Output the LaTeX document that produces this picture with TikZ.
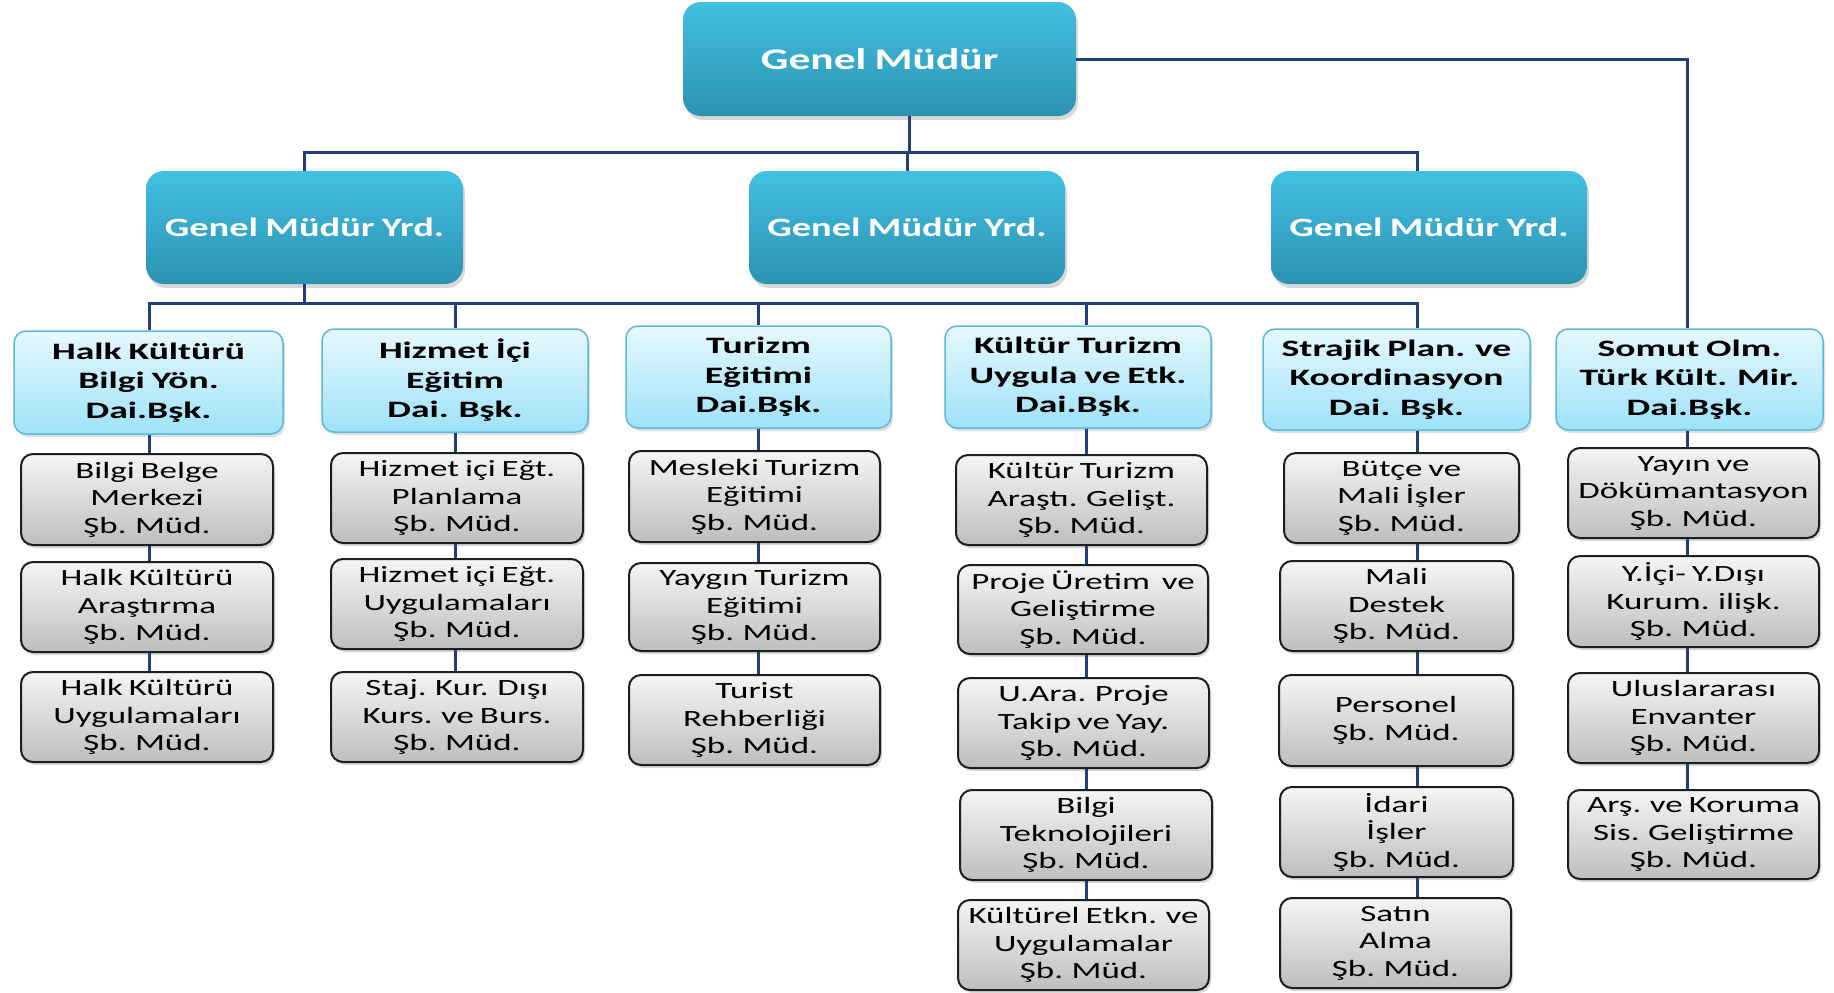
\documentclass[tikz,border=0pt]{standalone}
\usepackage{fontspec}
\setmainfont{Carlito}[FakeStretch=1.5, WordSpace=0.75]
\newfontfamily\daifont{Carlito}[FakeStretch=1.6, WordSpace=0.8]
\newfontfamily\tealfont{Carlito}[FakeStretch=1.45, WordSpace=0.85]
\usetikzlibrary{shadows}
\definecolor{tealtop}{RGB}{66,192,226}
\definecolor{tealbot}{RGB}{44,146,178}
\definecolor{daitop}{RGB}{230,248,254}
\definecolor{daibot}{RGB}{158,226,249}
\definecolor{daiborder}{RGB}{93,184,218}
\definecolor{subtop}{RGB}{245,245,245}
\definecolor{subbot}{RGB}{190,190,190}
\definecolor{subborder}{RGB}{30,30,30}
\definecolor{linec}{RGB}{32,63,124}
\tikzset{
  conn/.style={draw=linec, line width=3pt},
  tealbox/.style={rounded corners=18pt, top color=tealtop, bottom color=tealbot,
    text=white, align=center, inner sep=2pt,
    drop shadow={shadow xshift=2pt, shadow yshift=-4pt, opacity=0.3}},
  daibox/.style={rounded corners=12pt, draw=daiborder, line width=1.5pt,
    top color=daitop, bottom color=daibot, align=center, inner sep=2pt,
    font=\daifont\bfseries\fontsize{23.5}{29.5}\selectfont,
    drop shadow={shadow xshift=2pt, shadow yshift=-3pt, opacity=0.25}},
  subbox/.style={rounded corners=12pt, draw=subborder, line width=2pt,
    top color=subtop, bottom color=subbot, align=center, inner sep=2pt,
    font=\fontsize{23.3}{27.5}\selectfont,
    drop shadow={shadow xshift=2pt, shadow yshift=-3pt, opacity=0.3}},
}
\begin{document}
\begin{tikzpicture}[x=1pt,y=-1pt]
\useasboundingbox (0,0) rectangle (1834,993);
\fill[white] (0,0) rectangle (1834,993);

% column line positions
\coordinate (c1) at (149,0);
\coordinate (c2) at (455,0);
\coordinate (c3) at (758,0);
\coordinate (c4) at (1086,0);
\coordinate (c5) at (1417,0);
\coordinate (c6) at (1687,0);
\coordinate (ya) at (0,152);
\coordinate (yb) at (0,303);
\coordinate (yg) at (909,0);

% ---- top level ----
\node[tealbox, minimum width=393pt, minimum height=114pt,
  font=\tealfont\bfseries\fontsize{30}{34}\selectfont] (gm) at (879.5,59) {Genel Müdür};

\node[tealbox, minimum width=317pt, minimum height=113pt,
  font=\tealfont\bfseries\fontsize{26.5}{30}\selectfont] (gmy1) at (304.5,227.5) {Genel Müdür Yrd.};
\node[tealbox, minimum width=316pt, minimum height=113pt,
  font=\tealfont\bfseries\fontsize{26.5}{30}\selectfont] (gmy2) at (907,227.5) {Genel Müdür Yrd.};
\node[tealbox, minimum width=316pt, minimum height=113pt,
  font=\tealfont\bfseries\fontsize{26.5}{30}\selectfont] (gmy3) at (1429,227.5) {Genel Müdür Yrd.};

% ---- department heads ----
\node[daibox, minimum width=269pt, minimum height=103pt] (dai1) at (148.5,382.5) {Halk Kültürü\\Bilgi Yön.\\Dai.Bşk.};
\node[daibox, minimum width=266pt, minimum height=103pt] (dai2) at (455,380.5) {Hizmet İçi\\Eğitim\\Dai. Bşk.};
\node[daibox, minimum width=265pt, minimum height=102pt] (dai3) at (758.5,377) {Turizm\\Eğitimi\\Dai.Bşk.};
\node[daibox, minimum width=266pt, minimum height=102pt] (dai4) at (1078,377) {Kültür Turizm\\Uygula ve Etk.\\Dai.Bşk.};
\node[daibox, minimum width=267pt, minimum height=101pt] (dai5) at (1396.5,379.5) {Strajik Plan. ve\\Koordinasyon\\Dai. Bşk.};
\node[daibox, minimum width=267pt, minimum height=101pt] (dai6) at (1689.5,379.5) {Somut Olm.\\Türk Kült. Mir.\\Dai.Bşk.};

% ---- column 1 ----
\node[subbox, minimum width=252pt, minimum height=91pt] (g11) at (147,499.5) {Bilgi Belge\\Merkezi\\Şb. Müd.};
\node[subbox, minimum width=252pt, minimum height=90pt] (g12) at (147,607) {Halk Kültürü\\Araştırma\\Şb. Müd.};
\node[subbox, minimum width=252pt, minimum height=90pt] (g13) at (147,717) {Halk Kültürü\\Uygulamaları\\Şb. Müd.};
% ---- column 2 ----
\node[subbox, minimum width=252pt, minimum height=90pt] (g21) at (457,498) {Hizmet içi Eğt.\\Planlama\\Şb. Müd.};
\node[subbox, minimum width=252pt, minimum height=90pt] (g22) at (457,604) {Hizmet içi Eğt.\\Uygulamaları\\Şb. Müd.};
\node[subbox, minimum width=252pt, minimum height=90pt] (g23) at (457,717) {Staj. Kur. Dışı\\Kurs. ve Burs.\\Şb. Müd.};
% ---- column 3 ----
\node[subbox, minimum width=251pt, minimum height=91pt] (g31) at (754.5,496.5) {Mesleki Turizm\\Eğitimi\\Şb. Müd.};
\node[subbox, minimum width=251pt, minimum height=88pt] (g32) at (754.5,607) {Yaygın Turizm\\Eğitimi\\Şb. Müd.};
\node[subbox, minimum width=251pt, minimum height=90pt] (g33) at (754.5,720) {Turist\\Rehberliği\\Şb. Müd.};
% ---- column 4 ----
\node[subbox, minimum width=251pt, minimum height=90pt] (g41) at (1081.5,500) {Kültür Turizm\\Araştı. Gelişt.\\Şb. Müd.};
\node[subbox, minimum width=250pt, minimum height=89pt] (g42) at (1083,609.5) {Proje Üretim\ \ ve\\Geliştirme\\Şb. Müd.};
\node[subbox, minimum width=251pt, minimum height=90pt] (g43) at (1083.5,723) {U.Ara. Proje\\Takip ve Yay.\\Şb. Müd.};
\node[subbox, minimum width=252pt, minimum height=90pt] (g44) at (1086,835) {Bilgi\\Teknolojileri\\Şb. Müd.};
\node[subbox, minimum width=251pt, minimum height=90pt] (g45) at (1083.5,945) {Kültürel Etkn. ve\\Uygulamalar\\Şb. Müd.};
% ---- column 5 ----
\node[subbox, minimum width=235pt, minimum height=90pt] (g51) at (1401.5,498) {Bütçe ve\\Mali İşler\\Şb. Müd.};
\node[subbox, minimum width=233pt, minimum height=90pt] (g52) at (1396.5,606) {Mali\\Destek\\Şb. Müd.};
\node[subbox, minimum width=234pt, minimum height=91pt] (g53) at (1396,720.5) {Personel\\Şb. Müd.};
\node[subbox, minimum width=233pt, minimum height=90pt] (g54) at (1396.5,832) {İdari\\İşler\\Şb. Müd.};
\node[subbox, minimum width=231pt, minimum height=90pt] (g55) at (1395.5,943) {Satın\\Alma\\Şb. Müd.};
% ---- column 6 ----
\node[subbox, minimum width=251pt, minimum height=90pt] (g61) at (1693.5,493) {Yayın ve\\Dökümantasyon\\Şb. Müd.};
\node[subbox, minimum width=251pt, minimum height=91pt] (g62) at (1693.5,601.5) {Y.İçi- Y.Dışı\\Kurum. ilişk.\\Şb. Müd.};
\node[subbox, minimum width=251pt, minimum height=90pt] (g63) at (1693.5,718) {Uluslararası\\Envanter\\Şb. Müd.};
\node[subbox, minimum width=251pt, minimum height=89pt] (g64) at (1693.5,834.5) {Arş. ve Koruma\\Sis. Geliştirme\\Şb. Müd.};

% ---- connectors ----
\draw[conn] (yg |- gm.south) -- (yg |- ya);
\draw[conn] (gmy2.north |- ya) -- (gmy2.north);
\draw[conn] (gmy1.north) |- (c5 |- ya) -- (c5 |- gmy3.north);
\draw[conn] (gm.east) -| (c6 |- dai6.north);
\draw[conn] (gmy1.south) -- (gmy1.south |- yb);
\draw[conn] (c1 |- dai1.north) |- (c5 |- yb) -- (c5 |- dai5.north);
\draw[conn] (c2 |- yb) -- (c2 |- dai2.north);
\draw[conn] (c3 |- yb) -- (c3 |- dai3.north);
\draw[conn] (c4 |- yb) -- (c4 |- dai4.north);
% column 1
\draw[conn] (c1 |- dai1.south) -- (c1 |- g11.north);
\draw[conn] (c1 |- g11.south) -- (c1 |- g12.north);
\draw[conn] (c1 |- g12.south) -- (c1 |- g13.north);
% column 2
\draw[conn] (c2 |- dai2.south) -- (c2 |- g21.north);
\draw[conn] (c2 |- g21.south) -- (c2 |- g22.north);
\draw[conn] (c2 |- g22.south) -- (c2 |- g23.north);
% column 3
\draw[conn] (c3 |- dai3.south) -- (c3 |- g31.north);
\draw[conn] (c3 |- g31.south) -- (c3 |- g32.north);
\draw[conn] (c3 |- g32.south) -- (c3 |- g33.north);
% column 4
\draw[conn] (c4 |- dai4.south) -- (c4 |- g41.north);
\draw[conn] (c4 |- g41.south) -- (c4 |- g42.north);
\draw[conn] (c4 |- g42.south) -- (c4 |- g43.north);
\draw[conn] (c4 |- g43.south) -- (c4 |- g44.north);
\draw[conn] (c4 |- g44.south) -- (c4 |- g45.north);
% column 5
\draw[conn] (c5 |- dai5.south) -- (c5 |- g51.north);
\draw[conn] (c5 |- g51.south) -- (c5 |- g52.north);
\draw[conn] (c5 |- g52.south) -- (c5 |- g53.north);
\draw[conn] (c5 |- g53.south) -- (c5 |- g54.north);
\draw[conn] (c5 |- g54.south) -- (c5 |- g55.north);
% column 6
\draw[conn] (c6 |- dai6.south) -- (c6 |- g61.north);
\draw[conn] (c6 |- g61.south) -- (c6 |- g62.north);
\draw[conn] (c6 |- g62.south) -- (c6 |- g63.north);
\draw[conn] (c6 |- g63.south) -- (c6 |- g64.north);
\end{tikzpicture}
\end{document}
